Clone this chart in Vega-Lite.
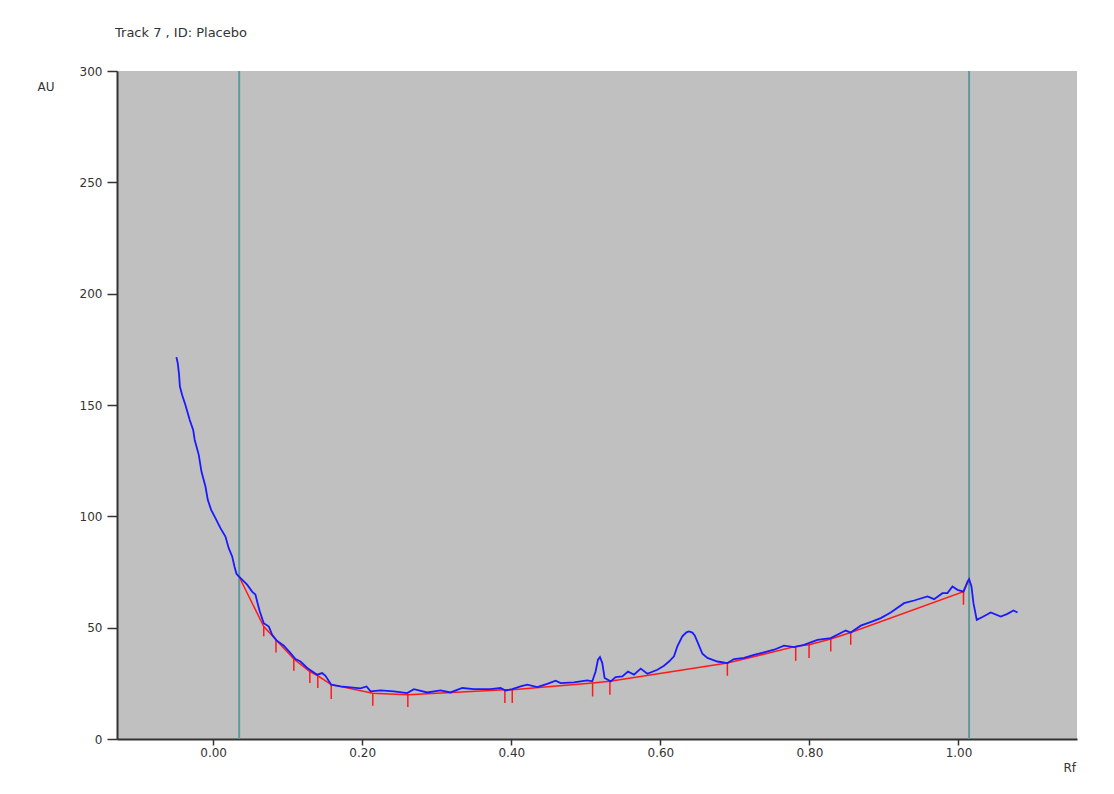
{
  "$schema": "https://vega.github.io/schema/vega-lite/v6.json",
  "autosize": {"type": "none"},
  "padding": {"left": 117, "top": 71, "right": 38, "bottom": 54},
  "width": 960,
  "height": 668,
  "background": "white",
  "title": {"text": "Track 7 , ID: Placebo", "anchor": "start", "frame": "group", "fontSize": 13, "font": "DejaVu Sans", "fontWeight": "normal", "color": "#333333", "offset": 25, "dx": -2},
  "config": {
    "view": {"fill": "#c0c0c0", "stroke": null},
    "axis": {"grid": false, "domainColor": "#333333", "domainWidth": 2, "tickColor": "#333333", "tickWidth": 1.5, "labelFont": "DejaVu Sans", "labelFontSize": 12, "labelColor": "#333333", "titleFont": "DejaVu Sans", "titleFontSize": 12, "titleFontWeight": "normal", "titleColor": "#333333"}
  },
  "datasets": {
    "trace": [
      {"rf": -0.0493, "au": 171.5}, {"rf": -0.0475, "au": 168.8}, {"rf": -0.0458, "au": 164}, {"rf": -0.0446, "au": 158.3},
      {"rf": -0.0416, "au": 154.5}, {"rf": -0.0372, "au": 150}, {"rf": -0.0314, "au": 143.3}, {"rf": -0.0268, "au": 138.8},
      {"rf": -0.0247, "au": 134.3}, {"rf": -0.0193, "au": 127.6}, {"rf": -0.0157, "au": 120.1}, {"rf": -0.0103, "au": 113.4},
      {"rf": -0.0072, "au": 107.4}, {"rf": -0.0027, "au": 102.9}, {"rf": 0.0031, "au": 99.2}, {"rf": 0.0098, "au": 94.7},
      {"rf": 0.0165, "au": 90.9}, {"rf": 0.0209, "au": 85.7}, {"rf": 0.0255, "au": 82}, {"rf": 0.0286, "au": 77.5},
      {"rf": 0.0313, "au": 74.2}, {"rf": 0.0344, "au": 73}, {"rf": 0.0456, "au": 69.3}, {"rf": 0.0523, "au": 66.2},
      {"rf": 0.0568, "au": 64.8}, {"rf": 0.059, "au": 61.8}, {"rf": 0.0626, "au": 57.3}, {"rf": 0.0679, "au": 52},
      {"rf": 0.0747, "au": 50.5}, {"rf": 0.0792, "au": 46.8}, {"rf": 0.085, "au": 44.3}, {"rf": 0.0948, "au": 41.9},
      {"rf": 0.1038, "au": 38.6}, {"rf": 0.1105, "au": 35.9}, {"rf": 0.1172, "au": 34.8}, {"rf": 0.1262, "au": 31.9},
      {"rf": 0.1396, "au": 28.9}, {"rf": 0.1463, "au": 29.6}, {"rf": 0.1507, "au": 28.4}, {"rf": 0.1584, "au": 24.4},
      {"rf": 0.1709, "au": 23.6}, {"rf": 0.1843, "au": 23.2}, {"rf": 0.1977, "au": 22.7}, {"rf": 0.2058, "au": 23.6},
      {"rf": 0.2112, "au": 21.4}, {"rf": 0.2246, "au": 21.8}, {"rf": 0.2424, "au": 21.4}, {"rf": 0.2604, "au": 20.6},
      {"rf": 0.2693, "au": 22.4}, {"rf": 0.2872, "au": 20.9}, {"rf": 0.3051, "au": 21.8}, {"rf": 0.3185, "au": 20.9},
      {"rf": 0.3342, "au": 22.9}, {"rf": 0.3498, "au": 22.4}, {"rf": 0.3722, "au": 22.4}, {"rf": 0.3856, "au": 22.9},
      {"rf": 0.3923, "au": 21.8}, {"rf": 0.4013, "au": 22.4}, {"rf": 0.4124, "au": 23.6}, {"rf": 0.4214, "au": 24.4},
      {"rf": 0.4349, "au": 23.3}, {"rf": 0.4483, "au": 24.8}, {"rf": 0.4595, "au": 26.2}, {"rf": 0.4662, "au": 25.1},
      {"rf": 0.484, "au": 25.4}, {"rf": 0.502, "au": 26.3}, {"rf": 0.5087, "au": 25.9}, {"rf": 0.5131, "au": 30.3},
      {"rf": 0.5163, "au": 35.6}, {"rf": 0.519, "au": 36.8}, {"rf": 0.5221, "au": 34.1}, {"rf": 0.5252, "au": 27.4},
      {"rf": 0.5333, "au": 25.9}, {"rf": 0.54, "au": 27.8}, {"rf": 0.549, "au": 28.1}, {"rf": 0.5565, "au": 30.3},
      {"rf": 0.5646, "au": 28.9}, {"rf": 0.5736, "au": 31.6}, {"rf": 0.5826, "au": 29.3}, {"rf": 0.596, "au": 31.1},
      {"rf": 0.6049, "au": 32.9}, {"rf": 0.6116, "au": 34.8}, {"rf": 0.6183, "au": 37.1}, {"rf": 0.6228, "au": 41.6},
      {"rf": 0.6295, "au": 46.1}, {"rf": 0.6350, "au": 47.9}, {"rf": 0.6384, "au": 48.3}, {"rf": 0.6430, "au": 47.8}, {"rf": 0.6461, "au": 46.5}, {"rf": 0.6505, "au": 43.1},
      {"rf": 0.6564, "au": 38.3}, {"rf": 0.6631, "au": 36.4}, {"rf": 0.6765, "au": 34.8}, {"rf": 0.6899, "au": 34.1},
      {"rf": 0.6988, "au": 35.9}, {"rf": 0.7122, "au": 36.4}, {"rf": 0.7257, "au": 37.8}, {"rf": 0.7391, "au": 38.9},
      {"rf": 0.7525, "au": 40.1}, {"rf": 0.7659, "au": 41.9}, {"rf": 0.7793, "au": 41.3}, {"rf": 0.7928, "au": 42.3},
      {"rf": 0.8018, "au": 43.4}, {"rf": 0.8107, "au": 44.5}, {"rf": 0.8286, "au": 45.3}, {"rf": 0.842, "au": 47.6},
      {"rf": 0.8487, "au": 48.7}, {"rf": 0.8554, "au": 47.8}, {"rf": 0.8689, "au": 50.9}, {"rf": 0.8846, "au": 52.8},
      {"rf": 0.8957, "au": 54.3}, {"rf": 0.9091, "au": 56.8}, {"rf": 0.927, "au": 61}, {"rf": 0.9404, "au": 62.2},
      {"rf": 0.9584, "au": 64}, {"rf": 0.9673, "au": 62.8}, {"rf": 0.9785, "au": 65.5}, {"rf": 0.9852, "au": 65.5},
      {"rf": 0.9919, "au": 68.5}, {"rf": 0.9987, "au": 67}, {"rf": 1.0067, "au": 66.2}, {"rf": 1.0121, "au": 70.7},
      {"rf": 1.0142, "au": 71.8}, {"rf": 1.0174, "au": 68.5}, {"rf": 1.0201, "au": 61}, {"rf": 1.0245, "au": 53.5},
      {"rf": 1.0322, "au": 54.8}, {"rf": 1.0433, "au": 56.8}, {"rf": 1.0567, "au": 55}, {"rf": 1.0657, "au": 56.2},
      {"rf": 1.0738, "au": 57.7}, {"rf": 1.0792, "au": 56.8}
    ],
    "base": [
      {"rf": 0.0357, "au": 72.3, "low": 72.3},
      {"rf": 0.0679, "au": 50.5, "low": 46.1},
      {"rf": 0.0843, "au": 44.6, "low": 38.9},
      {"rf": 0.1082, "au": 35.9, "low": 30.7},
      {"rf": 0.1297, "au": 30.3, "low": 25.1},
      {"rf": 0.1404, "au": 28.4, "low": 22.9},
      {"rf": 0.1584, "au": 24.4, "low": 18.0},
      {"rf": 0.2142, "au": 20.6, "low": 14.9},
      {"rf": 0.2612, "au": 19.9, "low": 14.4},
      {"rf": 0.3914, "au": 22.1, "low": 16.2},
      {"rf": 0.4013, "au": 22.1, "low": 16.2},
      {"rf": 0.5091, "au": 25.1, "low": 19.1},
      {"rf": 0.5323, "au": 25.9, "low": 19.9},
      {"rf": 0.6899, "au": 34.1, "low": 28.4},
      {"rf": 0.7816, "au": 41.6, "low": 35.1},
      {"rf": 0.7995, "au": 42.3, "low": 36.4},
      {"rf": 0.8286, "au": 44.9, "low": 39.3},
      {"rf": 0.8554, "au": 47.8, "low": 42.3},
      {"rf": 1.0067, "au": 66.2, "low": 60.3},
      {"rf": 1.0142, "au": 71.5, "low": 71.5}
    ],
    "bounds": [{"rf": 0.0349}, {"rf": 1.0142}]
  },
  "layer": [
    {
      "mark": {"type": "rule", "color": "#222222", "strokeWidth": 1.5},
      "encoding": {"y": {"datum": 20.2, "type": "quantitative"}}
    },
    {
      "data": {"name": "bounds"},
      "mark": {"type": "rule", "color": "#5f9a9a", "strokeWidth": 2},
      "encoding": {"x": {"field": "rf", "type": "quantitative"}}
    },
    {
      "data": {"name": "base"},
      "mark": {"type": "rule", "color": "#ff1a1a", "strokeWidth": 1.5},
      "encoding": {
        "x": {"field": "rf", "type": "quantitative"},
        "y": {"field": "au", "type": "quantitative"},
        "y2": {"field": "low"}
      }
    },
    {
      "data": {"name": "base"},
      "mark": {"type": "line", "color": "#ff1a1a", "strokeWidth": 1.5},
      "encoding": {
        "x": {"field": "rf", "type": "quantitative"},
        "y": {"field": "au", "type": "quantitative"}
      }
    },
    {
      "data": {"name": "trace"},
      "mark": {"type": "line", "color": "#1a1aff", "strokeWidth": 1.8},
      "encoding": {
        "x": {
          "field": "rf", "type": "quantitative",
          "scale": {"domain": [-0.129, 1.159], "nice": false, "zero": false},
          "axis": {"values": [0, 0.2, 0.4, 0.6, 0.8, 1.0], "format": ".2f", "tickSize": 6, "labelPadding": 2, "title": "Rf", "titleAlign": "left", "titleBaseline": "middle", "titleAnchor": null, "titleX": 946, "titleY": 28}
        },
        "y": {
          "field": "au", "type": "quantitative",
          "scale": {"domain": [0, 300], "nice": false},
          "axis": {"values": [0, 50, 100, 150, 200, 250, 300], "tickSize": 10, "labelPadding": 5, "title": "AU", "titleAngle": 0, "titleAlign": "left", "titleBaseline": "middle", "titleAnchor": null, "titleX": -80, "titleY": 15}
        }
      }
    }
  ]
}
